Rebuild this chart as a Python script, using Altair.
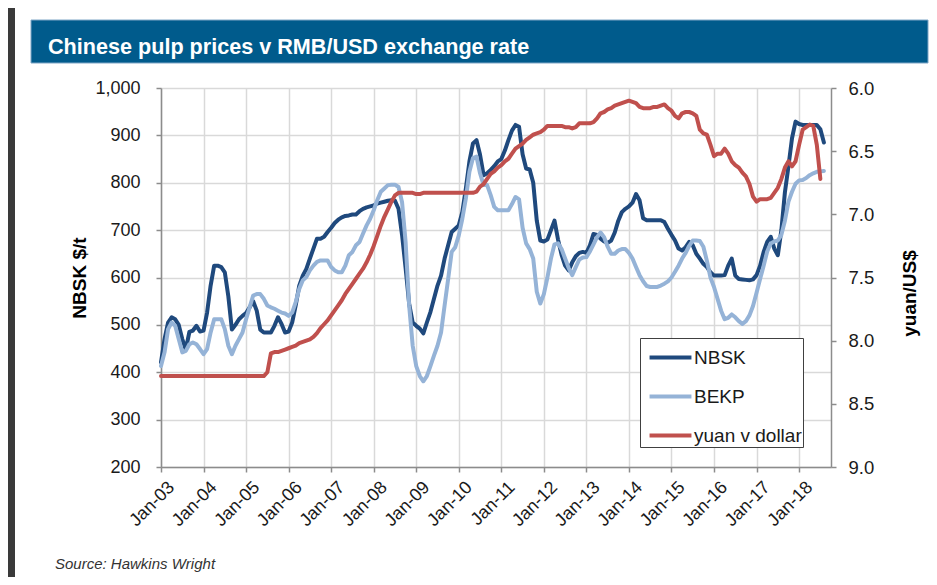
import altair as alt
import pandas as pd

# ---------------- data (monthly, Jan-03 onwards) ----------------
NBSK = [
    421, 470, 505, 516, 512, 500, 470, 448, 485, 488, 498, 486,   # 2003
    488, 526, 583, 625, 625, 622, 611, 560, 490, 500, 512, 519,   # 2004
    525, 537, 550, 530, 490, 484, 484, 484, 498, 516, 502, 484,   # 2005
    486, 505, 541, 583, 604, 618, 640, 661, 682, 682, 686, 696,   # 2006
    705, 715, 722, 727, 730, 731, 733, 733, 740, 745, 748, 750,   # 2007
    752, 756, 758, 760, 762, 763, 762, 745, 690, 620, 545, 505,   # 2008
    498, 492, 482, 505, 527, 555, 583, 604, 640, 668, 696, 703,   # 2009
    710, 738, 788, 845, 883, 890, 859, 816, 820, 827, 835, 845,   # 2010
    850, 868, 890, 910, 922, 918, 860, 830, 828, 800, 720, 678,   # 2011
    676, 680, 700, 720, 680, 648, 625, 615, 632, 645, 652, 654,   # 2012
    652, 668, 692, 690, 682, 676, 673, 678, 695, 720, 738, 745,   # 2013
    750, 758, 776, 763, 725, 721, 721, 721, 721, 721, 717, 703,   # 2014
    690, 678, 661, 657, 664, 675, 668, 650, 640, 629, 622, 611,   # 2015
    604, 604, 604, 605, 625, 640, 604, 597, 596, 595, 594, 596,   # 2016
    605, 625, 654, 675, 686, 661, 647, 700, 780, 835, 894, 929,   # 2017
    924, 922, 922, 922, 922, 922, 913, 885,                       # 2018
]
BEKP = [
    413, 442, 491, 505, 498, 470, 442, 445, 459, 463, 459, 449,   # 2003
    438, 449, 484, 512, 512, 512, 491, 456, 438, 456, 470, 484,   # 2004
    512, 537, 562, 565, 565, 555, 541, 537, 534, 530, 526, 524,   # 2005
    519, 526, 548, 576, 594, 601, 615, 625, 633, 636, 636, 636,   # 2006
    622, 615, 611, 611, 625, 647, 654, 668, 675, 693, 710, 724,   # 2007
    742, 763, 781, 788, 795, 796, 796, 791, 759, 675, 541, 456,   # 2008
    413, 392, 381, 392, 413, 435, 456, 484, 541, 597, 654, 664,   # 2009
    689, 724, 767, 823, 852, 855, 820, 795, 795, 774, 749, 742,   # 2010
    742, 742, 742, 755, 770, 765, 705, 672, 660, 640, 570, 545,   # 2011
    565, 600, 640, 670, 672, 660, 640, 620, 605, 622, 638, 642,   # 2012
    643, 655, 670, 685, 695, 685, 665, 650, 650, 657, 660, 660,   # 2013
    652, 640, 622, 605, 592, 582, 580, 580, 580, 583, 587, 592,   # 2014
    600, 612, 625, 640, 652, 667, 678, 678, 677, 665, 635, 600,   # 2015
    580, 555, 530, 512, 515, 522, 516, 508, 502, 508, 520, 540,   # 2016
    568, 597, 625, 655, 672, 676, 678, 690, 720, 760, 781, 798,   # 2017
    805, 806, 810, 816, 820, 823, 824, 825,                       # 2018
]
YUAN = [
    8.28, 8.28, 8.28, 8.28, 8.28, 8.28, 8.28, 8.28, 8.28, 8.28, 8.28, 8.28,  # 2003
    8.28, 8.28, 8.28, 8.28, 8.28, 8.28, 8.28, 8.28, 8.28, 8.28, 8.28, 8.28,  # 2004
    8.28, 8.28, 8.28, 8.28, 8.28, 8.28, 8.25, 8.10, 8.09, 8.09, 8.08, 8.07,  # 2005
    8.06, 8.05, 8.04, 8.02, 8.01, 8.00, 7.99, 7.97, 7.94, 7.90, 7.87, 7.84,  # 2006
    7.80, 7.76, 7.72, 7.68, 7.63, 7.59, 7.55, 7.51, 7.47, 7.43, 7.38, 7.32,  # 2007
    7.25, 7.17, 7.09, 7.02, 6.96, 6.90, 6.85, 6.83, 6.83, 6.83, 6.83, 6.83,  # 2008
    6.84, 6.84, 6.83, 6.83, 6.83, 6.83, 6.83, 6.83, 6.83, 6.83, 6.83, 6.83,  # 2009
    6.83, 6.83, 6.83, 6.83, 6.83, 6.82, 6.78, 6.76, 6.72, 6.68, 6.66, 6.63,  # 2010
    6.61, 6.58, 6.56, 6.52, 6.48, 6.46, 6.44, 6.41, 6.39, 6.37, 6.36, 6.35,  # 2011
    6.33, 6.30, 6.30, 6.30, 6.30, 6.30, 6.31, 6.31, 6.32, 6.31, 6.28, 6.28,  # 2012
    6.28, 6.28, 6.27, 6.24, 6.20, 6.19, 6.17, 6.16, 6.14, 6.13, 6.12, 6.11,  # 2013
    6.10, 6.11, 6.12, 6.15, 6.16, 6.16, 6.16, 6.15, 6.15, 6.14, 6.13, 6.16,  # 2014
    6.18, 6.22, 6.24, 6.20, 6.19, 6.19, 6.20, 6.22, 6.33, 6.36, 6.37, 6.45,  # 2015
    6.54, 6.52, 6.52, 6.48, 6.52, 6.58, 6.61, 6.63, 6.67, 6.70, 6.76, 6.86,  # 2016
    6.90, 6.88, 6.88, 6.88, 6.87, 6.83, 6.79, 6.72, 6.63, 6.58, 6.62, 6.58,  # 2017
    6.45, 6.33, 6.31, 6.29, 6.30, 6.45, 6.72,                                # 2018
]
X_TICK_LABELS = ["Jan-03", "Jan-04", "Jan-05", "Jan-06", "Jan-07", "Jan-08",
                 "Jan-09", "Jan-10", "Jan-11", "Jan-12", "Jan-13", "Jan-14",
                 "Jan-15", "Jan-16", "Jan-17", "Jan-18"]
X_TICK_MONTHS = [0, 12, 24, 36, 48, 60, 72, 84, 96, 108, 120, 132, 144, 156, 168, 180]
LEFT_TICKS = [200, 300, 400, 500, 600, 700, 800, 900, 1000]
RIGHT_TICKS = [6.0, 6.5, 7.0, 7.5, 8.0, 8.5, 9.0]
SERIES = ["NBSK", "BEKP", "yuan v dollar"]
COLORS = ["#1f497d", "#95b3d7", "#c0504d"]
TITLE = "Chinese pulp prices v RMB/USD exchange rate"
SOURCE = "Source: Hawkins Wright"

pulp = pd.DataFrame({
    "month": list(range(len(NBSK))) + list(range(len(BEKP))),
    "value": NBSK + BEKP,
    "series": ["NBSK"] * len(NBSK) + ["BEKP"] * len(BEKP),
})
fx = pd.DataFrame({
    "month": list(range(len(YUAN))),
    "value": YUAN,
    "series": ["yuan v dollar"] * len(YUAN),
})
dummy = pd.DataFrame({"d": [0]})

W, H = 670, 379
FONT = "Liberation Sans"
GRID = "#d9d9d9"
AXC = "#8c8c8c"
TXT = "#1a1a1a"

label_expr = "[" + ",".join("'%s'" % s for s in X_TICK_LABELS) + "][round(datum.value / 12)]"

x_enc = alt.X(
    "month:Q",
    scale=alt.Scale(domain=[0, 189], nice=False, zero=False),
    axis=alt.Axis(values=X_TICK_MONTHS, labelExpr=label_expr, title=None,
                  labelAngle=315, labelAlign="right", labelBaseline="top",
                  labelPadding=6, labelOffset=4, labelFont=FONT, labelFontSize=18,
                  labelColor=TXT, tickSize=5, tickColor=AXC, tickWidth=1.5,
                  domainColor=AXC, domainWidth=1.5, grid=True, gridColor=GRID,
                  gridWidth=1.5, labelOverlap=False, labelBound=False, labelFlush=False),
)

color_enc = alt.Color(
    "series:N",
    scale=alt.Scale(domain=SERIES, range=COLORS),
    legend=alt.Legend(
        title=None, orient="none", legendX=479, legendY=250,
        symbolType="M-1.27,0H1.27", symbolSize=1089, symbolStrokeWidth=4,
        labelFont=FONT, labelFontSize=19, labelColor=TXT,
        labelExpr="datum.label + '\u2002\u2002'",
        padding=1, rowPadding=10, symbolOffset=11, labelOffset=5,
        fillColor="white", strokeColor="#404040",
    ),
)

left_strip = alt.Chart(dummy).mark_rect(color="#3a3a3a").encode(
    x=alt.value(-160), x2=alt.value(-146), y=alt.value(-90), y2=alt.value(500))
title_bar = alt.Chart(dummy).mark_rect(color="#005b8c", stroke="#7fa6c6", strokeWidth=1).encode(
    x=alt.value(-130), x2=alt.value(767), y=alt.value(-68), y2=alt.value(-25))
title_text = alt.Chart(dummy).mark_text(
    text=TITLE, align="left", baseline="alphabetic", font=FONT, fontWeight="bold",
    fontSize=21.6, color="white").encode(x=alt.value(-113), y=alt.value(-34))
source_text = alt.Chart(dummy).mark_text(
    text=SOURCE, align="left", baseline="alphabetic", font=FONT, fontStyle="italic",
    fontSize=15, color="#333333").encode(x=alt.value(-106), y=alt.value(481))

pulp_lines = alt.Chart(pulp).mark_line(strokeWidth=4, strokeJoin="round", strokeCap="round").encode(
    x=x_enc,
    y=alt.Y("value:Q",
            scale=alt.Scale(domain=[200, 1000], nice=False, zero=False),
            axis=alt.Axis(values=LEFT_TICKS, format=",d", title="NBSK $/t",
                          titleFont=FONT, titleFontSize=19, titleFontWeight="bold",
                          titleColor="#000000", titlePadding=5,
                          labelFont=FONT, labelFontSize=18, labelColor=TXT,
                          labelPadding=16, tickSize=5, tickColor=AXC, tickWidth=1.5,
                          domainColor=AXC, domainWidth=1.5, grid=True,
                          gridColor=GRID, gridWidth=1.5)),
    color=color_enc,
    order="month:Q",
)

fx_line = alt.Chart(fx).mark_line(strokeWidth=4, strokeJoin="round", strokeCap="round").encode(
    x=x_enc,
    y=alt.Y("value:Q",
            scale=alt.Scale(domain=[6, 9], reverse=True, nice=False, zero=False),
            axis=alt.Axis(values=RIGHT_TICKS, format=".1f", title="yuan/US$", orient="right",
                          titleFont=FONT, titleFontSize=19, titleFontWeight="bold",
                          titleColor="#000000", titleAngle=270, titlePadding=46,
                          titleY=205,
                          labelFont=FONT, labelFontSize=18.5, labelColor=TXT,
                          labelPadding=12, tickSize=5, tickColor=AXC, tickWidth=1.5,
                          domainColor=AXC, domainWidth=1.5, grid=False)),
    color=color_enc,
    order="month:Q",
)

chart = alt.layer(
    left_strip, title_bar, title_text, source_text, pulp_lines, fx_line
).resolve_scale(
    y="independent"
).properties(
    width=W, height=H,
    autosize=alt.AutoSizeParams(type="none"),
    padding={"left": 153, "top": 80, "right": 98, "bottom": 110},
    background="white",
).configure_view(strokeWidth=0)

chart.save("out.html", embed_options={"renderer": "svg", "actions": False})
